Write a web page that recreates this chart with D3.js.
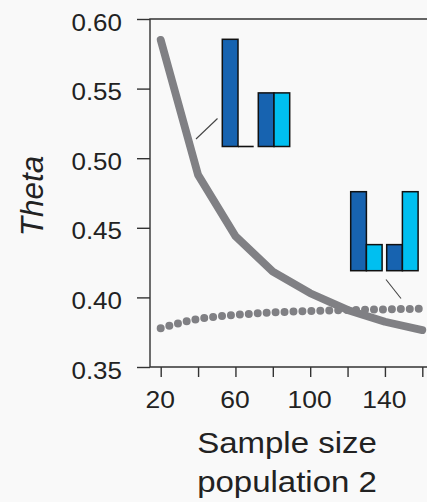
<!DOCTYPE html>
<html>
<head>
<meta charset="utf-8">
<script src="https://cdn.jsdelivr.net/npm/d3@7"></script>
<style>
    body { margin: 0; background: #f9f9f9; }
    svg { display: block; font-family: "Liberation Sans", Arial, sans-serif; }
</style>
</head>
<body>
<div id="chart"></div>
<script>
(function () {
    'use strict';

    // values
    const sampleSizes = [20, 40, 60, 80, 100, 120, 140, 160];
    const thetaSolid = [0.585, 0.488, 0.444, 0.4185, 0.403, 0.391, 0.3825, 0.3765];
    const thetaDotted = [0.3778, 0.3845, 0.3874, 0.3892, 0.3902, 0.3909, 0.3914, 0.3919];
    const yTickValues = [0.35, 0.40, 0.45, 0.50, 0.55, 0.60];
    const xTickLabels = ['20', '', '60', '', '100', '', '140', ''];

    // little bar icons: [population 1, population 2] per group
    const iconUnequal = [[1, 0], [0.5, 0.5]];
    const iconBalanced = [[1, 0.33], [0.33, 1]];
    const iconColors = ['#1763b0', '#00bff0'];

    const W = 427, H = 502;
    const X0 = 160.7, X1 = 422.3, Y0 = 367, Y1 = 19, AXIS_X = 150;
    const FONT = '"Liberation Sans", Arial, sans-serif';

    const svg = d3.select('#chart').append('svg').attr('width', W).attr('height', H);

    const x = d3.scaleLinear().domain([20, 160]).range([X0, X1]);
    const y = d3.scaleLinear().domain([0.35, 0.60]).range([Y0, Y1]);

    // frame (open at the right, the figure is cropped there)
    svg.append('path')
        .attr('d', `M${W + 5},${Y1}H${AXIS_X}V${Y0}H${W + 5}`)
        .attr('fill', 'none').attr('stroke', '#333').attr('stroke-width', 1.4);

    // y axis
    svg.append('g').attr('transform', `translate(${AXIS_X},0)`)
        .call(d3.axisLeft(y).tickValues(yTickValues).tickSize(13).tickPadding(0)
            .tickFormat(d3.format('.2f')))
        .call(gg => {
            gg.select('.domain').remove();
            gg.selectAll('line').attr('stroke', '#333').attr('stroke-width', 1.4);
            gg.selectAll('text').attr('x', 0).attr('y', 0).attr('dy', 0)
                .attr('transform', 'translate(-28,11) scale(1.06,1)')
                .attr('font-size', '24.5px').attr('fill', '#222').attr('font-family', FONT);
        });

    // x axis
    svg.append('g').attr('transform', `translate(0,${Y0})`)
        .call(d3.axisBottom(x).tickValues(sampleSizes).tickSize(10).tickPadding(0)
            .tickFormat((d, i) => xTickLabels[i]))
        .call(gg => {
            gg.select('.domain').remove();
            gg.selectAll('line').attr('stroke', '#333').attr('stroke-width', 1.4);
            gg.selectAll('text').attr('y', 0).attr('dy', 0)
                .attr('transform', 'translate(-1,40.5) scale(1.08,1)')
                .attr('font-size', '24.5px').attr('fill', '#222').attr('font-family', FONT);
        });

    // axis titles
    svg.append('text')
        .attr('transform', `translate(43,196) rotate(-90)`)
        .attr('text-anchor', 'middle').attr('font-size', '31.5px').attr('font-style', 'italic')
        .attr('fill', '#222').text('Theta');
    const xt = svg.append('text').attr('text-anchor', 'middle')
        .attr('transform', 'translate(287,0) scale(1.1,1)')
        .attr('font-size', '30px').attr('fill', '#222');
    xt.append('tspan').attr('x', 0).attr('y', 453.5).text('Sample size');
    xt.append('tspan').attr('x', 0).attr('y', 492.5).text('population 2');

    const pts = (vals) => sampleSizes.map((s, i) => [x(s), y(vals[i])]);

    // dotted series
    svg.append('path')
        .attr('d', d3.line().curve(d3.curveMonotoneX)(pts(thetaDotted)))
        .attr('fill', 'none').attr('stroke', '#808084').attr('stroke-width', 8)
        .attr('stroke-linecap', 'round').attr('stroke-dasharray', '0 8.95');

    // solid series
    svg.append('path')
        .attr('d', d3.line()(pts(thetaSolid)))
        .attr('fill', 'none').attr('stroke', '#808084').attr('stroke-width', 7.8)
        .attr('stroke-linecap', 'round').attr('stroke-linejoin', 'round');

    // icon drawing
    function drawIcon(data, left, bottom, fullH) {
        const g = svg.append('g').attr('transform', `translate(${left},${bottom})`);
        const barW = 15.7, gap = 4.6;
        const h = d3.scaleLinear().domain([0, 1]).range([0, fullH]);
        data.forEach((grp, gi) => {
            grp.forEach((v, bi) => {
                const bx = gi * (2 * barW + gap) + bi * barW;
                if (v === 0) {
                    g.append('line').attr('x1', bx).attr('x2', bx + barW)
                        .attr('y1', 0).attr('y2', 0)
                        .attr('stroke', '#111').attr('stroke-width', 1.6);
                    return;
                }
                g.append('rect')
                    .attr('x', bx).attr('y', -h(v))
                    .attr('width', barW).attr('height', h(v))
                    .attr('fill', iconColors[bi]).attr('stroke', '#111').attr('stroke-width', 1.5);
            });
        });
    }
    drawIcon(iconUnequal, 222.3, 146.5, 107.2);
    drawIcon(iconBalanced, 350.7, 270.7, 79);

    // leader lines
    svg.append('line').attr('x1', 196).attr('y1', 139).attr('x2', 217.5).attr('y2', 118.5)
        .attr('stroke', '#444').attr('stroke-width', 1.1);
    svg.append('line').attr('x1', 386).attr('y1', 279.5).attr('x2', 401).attr('y2', 298.5)
        .attr('stroke', '#444').attr('stroke-width', 1.1);
})();
</script>
</body>
</html>
